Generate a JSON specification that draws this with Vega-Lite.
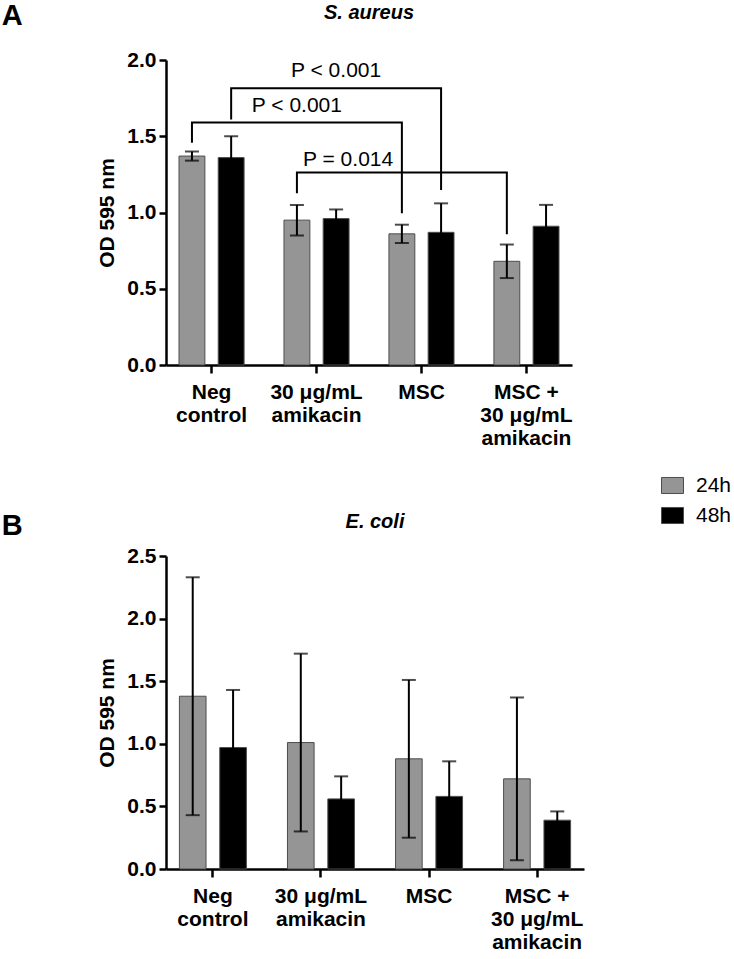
{
  "$schema": "https://vega.github.io/schema/vega-lite/v6.json",
  "padding": {"left": 1, "top": 2, "right": 2, "bottom": 2},
  "background": "white",
  "datasets": {
    "aureus": [
      {"treatment": "Neg control", "time": "24h", "mean": 1.37, "lo": 1.34, "hi": 1.40},
      {"treatment": "Neg control", "time": "48h", "mean": 1.36, "lo": 1.22, "hi": 1.50},
      {"treatment": "30 μg/mL amikacin", "time": "24h", "mean": 0.95, "lo": 0.85, "hi": 1.05},
      {"treatment": "30 μg/mL amikacin", "time": "48h", "mean": 0.96, "lo": 0.90, "hi": 1.02},
      {"treatment": "MSC", "time": "24h", "mean": 0.86, "lo": 0.80, "hi": 0.92},
      {"treatment": "MSC", "time": "48h", "mean": 0.87, "lo": 0.68, "hi": 1.06},
      {"treatment": "MSC + 30 μg/mL amikacin", "time": "24h", "mean": 0.68, "lo": 0.57, "hi": 0.79},
      {"treatment": "MSC + 30 μg/mL amikacin", "time": "48h", "mean": 0.91, "lo": 0.77, "hi": 1.05}
    ],
    "ecoli": [
      {"treatment": "Neg control", "time": "24h", "mean": 1.38, "lo": 0.43, "hi": 2.33},
      {"treatment": "Neg control", "time": "48h", "mean": 0.97, "lo": 0.51, "hi": 1.43},
      {"treatment": "30 μg/mL amikacin", "time": "24h", "mean": 1.01, "lo": 0.30, "hi": 1.72},
      {"treatment": "30 μg/mL amikacin", "time": "48h", "mean": 0.56, "lo": 0.39, "hi": 0.74},
      {"treatment": "MSC", "time": "24h", "mean": 0.88, "lo": 0.25, "hi": 1.51},
      {"treatment": "MSC", "time": "48h", "mean": 0.58, "lo": 0.30, "hi": 0.86},
      {"treatment": "MSC + 30 μg/mL amikacin", "time": "24h", "mean": 0.72, "lo": 0.07, "hi": 1.37},
      {"treatment": "MSC + 30 μg/mL amikacin", "time": "48h", "mean": 0.39, "lo": 0.32, "hi": 0.46}
    ],
    "brackets": [
      {"bracket": "b1", "seq": 1, "treatment": "Neg control", "time": "24h", "y": 1.458},
      {"bracket": "b1", "seq": 2, "treatment": "Neg control", "time": "24h", "y": 1.59},
      {"bracket": "b1", "seq": 3, "treatment": "MSC", "time": "24h", "y": 1.59},
      {"bracket": "b1", "seq": 4, "treatment": "MSC", "time": "24h", "y": 0.995},
      {"bracket": "b2", "seq": 1, "treatment": "Neg control", "time": "48h", "y": 1.61},
      {"bracket": "b2", "seq": 2, "treatment": "Neg control", "time": "48h", "y": 1.815},
      {"bracket": "b2", "seq": 3, "treatment": "MSC", "time": "48h", "y": 1.815},
      {"bracket": "b2", "seq": 4, "treatment": "MSC", "time": "48h", "y": 1.148},
      {"bracket": "b3", "seq": 1, "treatment": "30 μg/mL amikacin", "time": "24h", "y": 1.126},
      {"bracket": "b3", "seq": 2, "treatment": "30 μg/mL amikacin", "time": "24h", "y": 1.262},
      {"bracket": "b3", "seq": 3, "treatment": "MSC + 30 μg/mL amikacin", "time": "24h", "y": 1.262},
      {"bracket": "b3", "seq": 4, "treatment": "MSC + 30 μg/mL amikacin", "time": "24h", "y": 0.857}
    ],
    "plabels": [
      {"label": "P < 0.001", "treatment": "30 μg/mL amikacin", "time": "48h", "y": 1.891, "kind": "centre"},
      {"label": "P < 0.001", "treatment": "30 μg/mL amikacin", "time": "24h", "y": 1.662, "kind": "centre"},
      {"label": "P = 0.014", "treatment": "30 μg/mL amikacin", "time": "48h", "y": 1.305, "kind": "shift"}
    ]
  },
  "config": {
    "font": "Liberation Sans",
    "view": {"stroke": null},
    "axis": {
      "grid": false,
      "domainColor": "black", "domainWidth": 2.5,
      "tickColor": "black", "tickWidth": 2.5, "tickSize": 7,
      "labelFont": "Liberation Sans", "labelFontWeight": "bold", "labelFontSize": 21, "labelColor": "black",
      "titleFont": "Liberation Sans", "titleFontWeight": "bold", "titleFontSize": 21, "titleColor": "black"
    },
    "axisX": {"labelAngle": 0, "labelPadding": 8, "labelLineHeight": 23, "labelOverlap": false, "tickSize": 8},
    "axisY": {"labelPadding": 3, "titlePadding": 9},
    "legend": {
      "symbolType": "M-1,-0.73H1V0.73H-1Z",
      "symbolSize": 484,
      "symbolStrokeColor": "#4d4d4d",
      "symbolStrokeWidth": 1,
      "symbolOpacity": 1,
      "labelFont": "Liberation Sans",
      "labelFontSize": 21,
      "labelColor": "black",
      "labelOffset": 12,
      "rowPadding": 8
    }
  },
  "resolve": {"scale": {"x": "independent", "y": "independent", "xOffset": "independent", "color": "shared"}, "legend": {"color": "independent"}},
  "spacing": 26,
  "vconcat": [
    {
      "title": {"text": "A", "anchor": "start", "frame": "bounds", "fontSize": 29, "fontWeight": "bold", "offset": -28, "dx": -95, "color": "black"},
      "vconcat": [
        {
          "title": {"text": "S. aureus", "frame": "group", "anchor": "middle", "fontSize": 20, "fontStyle": "italic", "fontWeight": "bold", "offset": 26, "color": "black"},
          "width": 406,
          "height": 305,
          "layer": [
            {
              "data": {"name": "aureus"},
              "mark": {"type": "bar", "stroke": "#4d4d4d", "strokeWidth": 1},
              "encoding": {
                "x": {"field": "treatment", "type": "nominal", "title": null,
                  "scale": {"domain": ["Neg control", "30 μg/mL amikacin", "MSC", "MSC + 30 μg/mL amikacin"], "paddingInner": 0.38, "paddingOuter": 0.124},
                  "axis": {"labelExpr": "datum.value == 'Neg control' ? ['Neg', 'control'] : datum.value == 'MSC' ? 'MSC' : datum.value == 'MSC + 30 μg/mL amikacin' ? ['MSC +', '30 μg/mL', 'amikacin'] : ['30 μg/mL', 'amikacin']"}},
                "xOffset": {"field": "time", "type": "nominal", "scale": {"domain": ["24h", "48h"], "paddingInner": 0.34, "paddingOuter": 0}},
                "y": {"field": "mean", "type": "quantitative", "title": "OD 595 nm",
                  "scale": {"domain": [0, 2], "nice": false},
                  "axis": {"values": [0, 0.5, 1, 1.5, 2], "format": ".1f"}},
                "color": {"field": "time", "type": "nominal",
                  "scale": {"domain": ["24h", "48h"], "range": ["#959595", "#000000"]},
                  "legend": null}
              }
            },
            {
              "data": {"name": "aureus"},
              "mark": {"type": "rule", "strokeWidth": 2, "color": "black"},
              "encoding": {
                "x": {"field": "treatment", "type": "nominal", "title": null},
                "xOffset": {"field": "time", "type": "nominal"},
                "y": {"field": "lo", "type": "quantitative", "title": "OD 595 nm"},
                "y2": {"field": "hi"}
              }
            },
            {
              "data": {"name": "aureus"},
              "mark": {"type": "tick", "thickness": 2, "size": 14, "color": "black"},
              "encoding": {
                "x": {"field": "treatment", "type": "nominal", "title": null},
                "xOffset": {"field": "time", "type": "nominal"},
                "y": {"field": "hi", "type": "quantitative", "title": "OD 595 nm"}
              }
            },
            {
              "data": {"name": "aureus"},
              "mark": {"type": "tick", "thickness": 2, "size": 14, "color": "black"},
              "encoding": {
                "x": {"field": "treatment", "type": "nominal", "title": null},
                "xOffset": {"field": "time", "type": "nominal"},
                "y": {"field": "lo", "type": "quantitative", "title": "OD 595 nm"}
              }
            },
            {
              "data": {"name": "brackets"},
              "mark": {"type": "line", "color": "black", "strokeWidth": 2},
              "encoding": {
                "x": {"field": "treatment", "type": "nominal", "title": null},
                "xOffset": {"field": "time", "type": "nominal"},
                "y": {"field": "y", "type": "quantitative", "title": "OD 595 nm"},
                "detail": {"field": "bracket"},
                "order": {"field": "seq", "type": "quantitative"}
              }
            },
            {
              "data": {"name": "plabels"},
              "transform": [{"filter": "datum.kind == 'centre'"}],
              "mark": {"type": "text", "fontSize": 21, "baseline": "alphabetic", "align": "center", "color": "black"},
              "encoding": {
                "x": {"field": "treatment", "type": "nominal", "title": null},
                "xOffset": {"field": "time", "type": "nominal"},
                "y": {"field": "y", "type": "quantitative", "title": "OD 595 nm"},
                "text": {"field": "label"}
              }
            },
            {
              "data": {"name": "plabels"},
              "transform": [{"filter": "datum.kind == 'shift'"}],
              "mark": {"type": "text", "fontSize": 21, "baseline": "alphabetic", "align": "center", "dx": 12, "color": "black"},
              "encoding": {
                "x": {"field": "treatment", "type": "nominal", "title": null},
                "xOffset": {"field": "time", "type": "nominal"},
                "y": {"field": "y", "type": "quantitative", "title": "OD 595 nm"},
                "text": {"field": "label"}
              }
            }
          ]
        }
      ]
    },
    {
      "title": {"text": "B", "anchor": "start", "frame": "bounds", "fontSize": 29, "fontWeight": "bold", "offset": -67, "dx": -95, "color": "black"},
      "vconcat": [
        {
          "title": {"text": "E. coli", "frame": "group", "anchor": "middle", "fontSize": 20, "fontStyle": "italic", "fontWeight": "bold", "offset": 13, "color": "black"},
          "width": 418,
          "height": 313,
          "data": {"name": "ecoli"},
          "layer": [
            {
              "mark": {"type": "bar", "stroke": "#4d4d4d", "strokeWidth": 1},
              "encoding": {
                "x": {"field": "treatment", "type": "nominal", "title": null,
                  "scale": {"domain": ["Neg control", "30 μg/mL amikacin", "MSC", "MSC + 30 μg/mL amikacin"], "paddingInner": 0.38, "paddingOuter": 0.124},
                  "axis": {"labelExpr": "datum.value == 'Neg control' ? ['Neg', 'control'] : datum.value == 'MSC' ? 'MSC' : datum.value == 'MSC + 30 μg/mL amikacin' ? ['MSC +', '30 μg/mL', 'amikacin'] : ['30 μg/mL', 'amikacin']"}},
                "xOffset": {"field": "time", "type": "nominal", "scale": {"domain": ["24h", "48h"], "paddingInner": 0.34, "paddingOuter": 0}},
                "y": {"field": "mean", "type": "quantitative", "title": "OD 595 nm",
                  "scale": {"domain": [0, 2.5], "nice": false},
                  "axis": {"values": [0, 0.5, 1, 1.5, 2, 2.5], "format": ".1f"}},
                "color": {"field": "time", "type": "nominal",
                  "scale": {"domain": ["24h", "48h"], "range": ["#959595", "#000000"]},
                  "legend": {"title": null, "orient": "none", "legendX": 495, "legendY": -82}}
              }
            },
            {
              "mark": {"type": "rule", "strokeWidth": 2, "color": "black"},
              "encoding": {
                "x": {"field": "treatment", "type": "nominal", "title": null},
                "xOffset": {"field": "time", "type": "nominal"},
                "y": {"field": "lo", "type": "quantitative", "title": "OD 595 nm"},
                "y2": {"field": "hi"}
              }
            },
            {
              "mark": {"type": "tick", "thickness": 2, "size": 14, "color": "black"},
              "encoding": {
                "x": {"field": "treatment", "type": "nominal", "title": null},
                "xOffset": {"field": "time", "type": "nominal"},
                "y": {"field": "hi", "type": "quantitative", "title": "OD 595 nm"}
              }
            },
            {
              "mark": {"type": "tick", "thickness": 2, "size": 14, "color": "black"},
              "encoding": {
                "x": {"field": "treatment", "type": "nominal", "title": null},
                "xOffset": {"field": "time", "type": "nominal"},
                "y": {"field": "lo", "type": "quantitative", "title": "OD 595 nm"}
              }
            }
          ]
        }
      ]
    }
  ]
}
